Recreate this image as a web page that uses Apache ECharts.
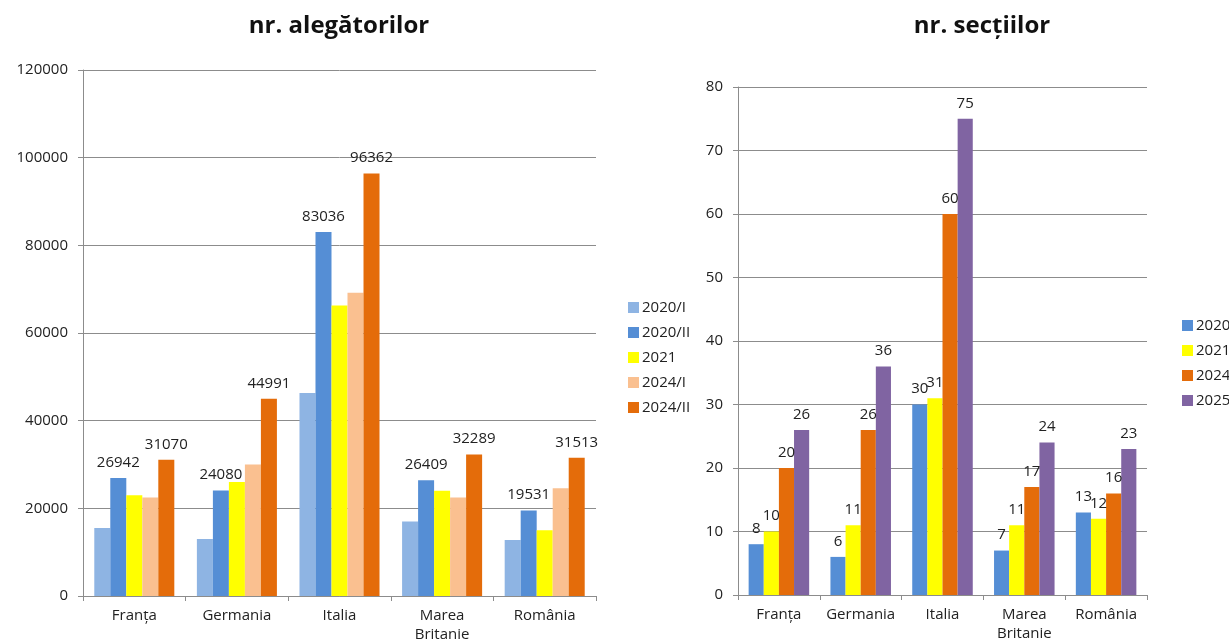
<!DOCTYPE html>
<html>
<head>
<meta charset="utf-8">
<script src="https://cdn.jsdelivr.net/npm/echarts@6/dist/echarts.min.js"></script>
<style>
html, body { margin: 0; padding: 0; background: #fff; }
#chart { width: 1229px; height: 644px; }
</style>
</head>
<body>
<div id="chart"></div>
<script>
// categories
const countries = ['Franța', 'Germania', 'Italia', 'Marea\nBritanie', 'România'];

// nr. alegătorilor
const voters2020I  = [15500, 13000, 46300, 17000, 12800];
const voters2020II = [26942, 24080, 83036, 26409, 19531];
const voters2021   = [23000, 26000, 66300, 24000, 15000];
const voters2024I  = [22500, 30000, 69200, 22500, 24600];
const voters2024II = [31070, 44991, 96362, 32289, 31513];

// nr. secțiilor
const sections2020 = [8, 6, 30, 7, 13];
const sections2021 = [10, 11, 31, 11, 12];
const sections2024 = [20, 26, 60, 17, 16];
const sections2025 = [26, 36, 75, 24, 23];

const FONT = '"Open Sans", "Noto Sans", sans-serif';
const chart = echarts.init(document.getElementById('chart'));

const axisLbl = { color: '#222', fontSize: 15, fontFamily: FONT };
const gridLine = { lineStyle: { color: '#8c8c8c', width: 1 } };
const axisLine = { show: true, lineStyle: { color: '#8c8c8c' } };

function bar(name, data, color, idx, showLabel) {
    return {
        name: name,
        type: 'bar',
        xAxisIndex: idx,
        yAxisIndex: idx,
        data: data,
        barGap: '0%',
        barCategoryGap: idx === 0 ? '22%' : '26%',
        itemStyle: { color: color },
        label: {
            show: showLabel,
            position: 'top',
            distance: 8,
            color: '#222',
            fontSize: 15,
            fontFamily: FONT
        }
    };
}

const option = {
    animation: false,
    title: [
        { text: 'nr. alegătorilor', left: 334, top: 9, textAlign: 'center',
          textStyle: { fontSize: 24, fontWeight: 'bold', color: '#111', fontFamily: FONT } },
        { text: 'nr. secțiilor', left: 977, top: 9, textAlign: 'center',
          textStyle: { fontSize: 24, fontWeight: 'bold', color: '#111', fontFamily: FONT } }
    ],
    legend: [
        {
            data: ['2020/I', '2020/II', '2021', '2024/I', '2024/II'],
            orient: 'vertical', left: 623, top: 295, itemGap: 10,
            itemWidth: 11, itemHeight: 11, icon: 'rect',
            textStyle: { color: '#222', fontSize: 15, fontFamily: FONT, padding: [0, 0, 0, -2] }
        },
        {
            data: ['2020', '2021', '2024', '2025'],
            orient: 'vertical', left: 1177, top: 313, itemGap: 10,
            itemWidth: 11, itemHeight: 11, icon: 'rect',
            textStyle: { color: '#222', fontSize: 15, fontFamily: FONT, padding: [0, 0, 0, -2] }
        }
    ],
    grid: [
        { left: 83, top: 70, width: 513, height: 534 },
        { left: 738, top: 87, width: 409, height: 508 }
    ],
    xAxis: [0, 1].map(i => ({
        type: 'category',
        gridIndex: i,
        data: countries,
        axisLine: axisLine,
        axisTick: { show: true, length: 5, lineStyle: { color: '#8c8c8c' } },
        axisLabel: Object.assign({ margin: 10, lineHeight: 19, interval: 0 }, axisLbl)
    })),
    yAxis: [
        {
            type: 'value', gridIndex: 0, min: 0, max: 120000, interval: 20000,
            axisLine: axisLine,
            axisTick: { show: true, length: 5, lineStyle: { color: '#8c8c8c' } },
            splitLine: gridLine,
            axisLabel: Object.assign({ margin: 15, formatter: v => String(v) }, axisLbl)
        },
        {
            type: 'value', gridIndex: 1, min: 0, max: 80, interval: 10,
            axisLine: axisLine,
            axisTick: { show: true, length: 5, lineStyle: { color: '#8c8c8c' } },
            splitLine: gridLine,
            axisLabel: Object.assign({ margin: 15 }, axisLbl)
        }
    ],
    series: [
        bar('2020/I', voters2020I, '#8EB4E3', 0, false),
        bar('2020/II', voters2020II, '#558ED5', 0, true),
        bar('2021', voters2021, '#FFFF00', 0, false),
        bar('2024/I', voters2024I, '#FAC090', 0, false),
        bar('2024/II', voters2024II, '#E46C0A', 0, true),
        bar('2020', sections2020, '#558ED5', 1, true),
        bar('2021', sections2021, '#FFFF00', 1, true),
        bar('2024', sections2024, '#E46C0A', 1, true),
        bar('2025', sections2025, '#8064A2', 1, true)
    ]
};
chart.setOption(option);
</script>
</body>
</html>
